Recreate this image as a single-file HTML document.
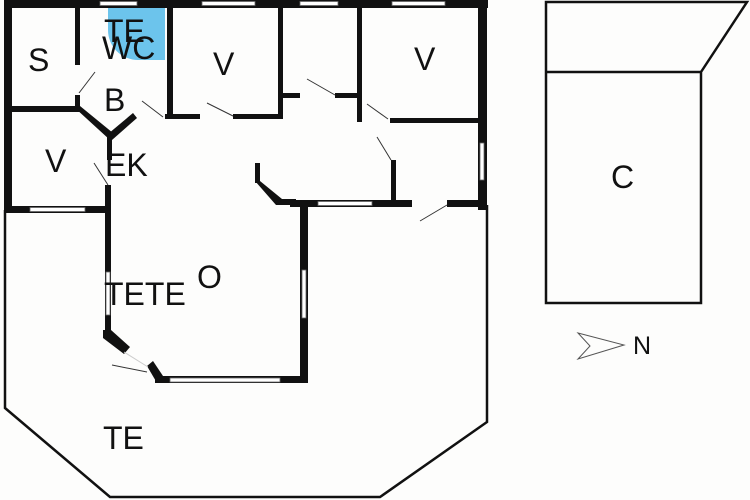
<!DOCTYPE html>
<html><head><style>
body{margin:0;background:#fff}
svg{display:block}
text{font-family:"Liberation Sans",sans-serif;font-size:32px;fill:#111}
</style></head><body>
<svg width="750" height="500" viewBox="0 0 750 500">
<rect width="750" height="500" fill="#fdfdfc"/>
<path d="M165 8 L108 8 L108 30 A30 30 0 0 0 138 60 L165 60 Z" fill="#6cc4ec"/>
<polyline points="5,210 5,408 110,497 380,497 487,422 487,205" fill="none" stroke="#111" stroke-width="2.5"/>
<g fill="none" stroke="#111" stroke-width="2.5">
<polyline points="701,72 747,2 546,2 546,303 701,303 701,72 546,72"/>
</g>
<polygon points="578,333 624,345 578,359 590,346" fill="none" stroke="#555" stroke-width="1"/>
<g fill="#111">
<rect x="4" y="0" width="484" height="8"/>
<rect x="4" y="0" width="8" height="213"/>
<rect x="478" y="0" width="9" height="210"/>
<rect x="4" y="206" width="107" height="7"/>
<rect x="75" y="8" width="5" height="57"/>
<rect x="75" y="95" width="5" height="15"/>
<rect x="8" y="106" width="72" height="6"/>
<polygon points="75,108 80,106 113,133 110,140"/>
<polygon points="133,113 137,118 112,140 108,134"/>
<rect x="107" y="135" width="5" height="25"/>
<rect x="105" y="185" width="6" height="150"/>
<rect x="167" y="8" width="6" height="111"/>
<rect x="165" y="114" width="35" height="5"/>
<rect x="233" y="114" width="49" height="5"/>
<rect x="278" y="8" width="5" height="111"/>
<rect x="278" y="93" width="22" height="5"/>
<rect x="335" y="93" width="26" height="5"/>
<rect x="357" y="8" width="5" height="114"/>
<rect x="390" y="118" width="90" height="5"/>
<rect x="391" y="160" width="5" height="45"/>
<rect x="290" y="200" width="122" height="7"/>
<rect x="447" y="200" width="40" height="7"/>
<rect x="255" y="163" width="5" height="20"/>
<polygon points="255,181 260,181 282,199 282,205 276,205"/>
<rect x="276" y="199" width="20" height="6"/>
<rect x="300" y="200" width="8" height="183"/>
<rect x="155" y="376" width="153" height="7"/>
<polygon points="103,330 111,330 130,347 124,354 103,338"/>
<polygon points="147,366 153,361 163,376 163,383 157,383"/>
</g>
<g fill="#fff" stroke="#666" stroke-width="0.8">
<rect x="100" y="1.5" width="37" height="4"/>
<rect x="202" y="1.5" width="53" height="4"/>
<rect x="300" y="1.5" width="38" height="4"/>
<rect x="392" y="1.5" width="53" height="4"/>
<rect x="30" y="207.5" width="55" height="4"/>
<rect x="318" y="201.5" width="54" height="4"/>
<rect x="480" y="143" width="4" height="37"/>
<rect x="302" y="270" width="4" height="48"/>
<rect x="106" y="272" width="4" height="43"/>
<rect x="170" y="378" width="110" height="4"/>
</g>
<g stroke="#333" stroke-width="1">
<line x1="79" y1="93" x2="95" y2="72"/>
<line x1="163" y1="117" x2="142" y2="101"/>
<line x1="233" y1="116" x2="207" y2="103"/>
<line x1="335" y1="95" x2="307" y2="79"/>
<line x1="388" y1="119" x2="367" y2="104"/>
<line x1="391" y1="160" x2="377" y2="137"/>
<line x1="447" y1="205" x2="420" y2="221"/>
<line x1="108" y1="185" x2="94" y2="163"/>
<line x1="147" y1="372" x2="112" y2="365"/>
</g>
<g stroke="#ccc" stroke-width="1">
<line x1="124" y1="352" x2="148" y2="367"/>
</g>
<text x="28" y="71">S</text>
<text x="104" y="42">TE</text>
<text x="102" y="59">WC</text>
<text x="213" y="75">V</text>
<text x="414" y="70">V</text>
<text x="104" y="111">B</text>
<text x="45" y="172">V</text>
<text x="105" y="176">EK</text>
<text x="104" y="305">TETE</text>
<text x="197" y="288">O</text>
<text x="103" y="449">TE</text>
<text x="611" y="188">C</text>
<text x="633" y="354" style="font-size:25px">N</text>
</svg>
</body></html>
